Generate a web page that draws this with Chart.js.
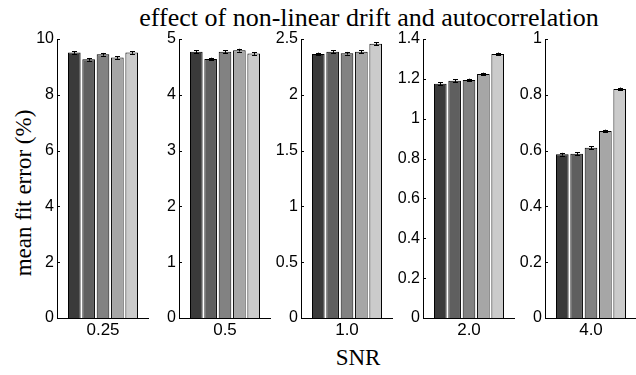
<!DOCTYPE html>
<html>
<head>
<meta charset="utf-8">
<script src="https://cdn.jsdelivr.net/npm/chart.js@4"></script>
<style>
  body { margin: 0; background: #fff; }
  #wrap { position: relative; width: 636px; height: 375px; overflow: hidden; }
  .panel { position: absolute; top: 20px; }
  .lbl { position: absolute; font-family: "Liberation Serif", "Times New Roman", serif; font-size: 23px; line-height: 23px; white-space: nowrap; color: #000; }
  #title { left: 369px; top: 5px; font-size: 26px; line-height: 26px; transform: translateX(-50%); }
  #xlab { left: 358px; top: 346px; transform: translateX(-50%); }
  #ylab { left: 23px; top: 193px; transform: translate(-50%, -50%) rotate(-90deg); }
</style>
</head>
<body>
<div id="wrap">
  <div class="lbl" id="title">effect of non-linear drift and autocorrelation</div>
  <div class="lbl" id="ylab">mean fit error (%)</div>
  <div class="lbl" id="xlab">SNR</div>
</div>
<script>
"use strict"

// SNR groups (one small panel each)
const snrLabels = ['0.25', '0.5', '1.0', '2.0', '4.0'];

// mean fit error (%) for the five conditions, per SNR
const meanSnr025 = [9.52, 9.27, 9.45, 9.34, 9.52];
const meanSnr05  = [4.77, 4.64, 4.77, 4.80, 4.74];
const meanSnr10  = [2.366, 2.386, 2.372, 2.386, 2.458];
const meanSnr20  = [1.176, 1.191, 1.194, 1.224, 1.325];
const meanSnr40  = [0.587, 0.589, 0.610, 0.670, 0.821];

// error bar half lengths
const errSnr025 = [0.05, 0.05, 0.05, 0.05, 0.05];
const errSnr05  = [0.025, 0.025, 0.025, 0.025, 0.025];
const errSnr10  = [0.012, 0.012, 0.012, 0.012, 0.012];
const errSnr20  = [0.007, 0.007, 0.007, 0.007, 0.007];
const errSnr40  = [0.005, 0.005, 0.005, 0.005, 0.005];

// y axis limits and tick steps per panel
const yMax  = [10, 5, 2.5, 1.4, 1];
const yStep = [2, 1, 0.5, 0.2, 0.2];

const means = [meanSnr025, meanSnr05, meanSnr10, meanSnr20, meanSnr40];
const errs  = [errSnr025, errSnr05, errSnr10, errSnr20, errSnr40];

const barColors = ['#3a3a3a', '#5f5f5f', '#828282', '#a6a6a6', '#cbcbcb'];

// error bars + inside tick marks (matlab style)
const extrasPlugin = {
    id: 'extras',
    afterDatasetsDraw: function(chart) {
        const ctx = chart.ctx;
        const ys = chart.scales.y;
        const errList = chart.options.plugins.extras.errs;
        ctx.save();
        ctx.strokeStyle = '#000';
        ctx.lineWidth = 1;
        chart.data.datasets.forEach(function(ds, i) {
            const bar = chart.getDatasetMeta(i).data[0];
            const v = ds.data[0];
            const e = errList[i];
            const x = Math.round(bar.x) + 0.5;
            const y1 = ys.getPixelForValue(v + e);
            const y2 = ys.getPixelForValue(v - e);
            ctx.beginPath();
            ctx.moveTo(x, y1); ctx.lineTo(x, y2);
            ctx.moveTo(x - 2.5, Math.round(y1) + 0.5); ctx.lineTo(x + 2.5, Math.round(y1) + 0.5);
            ctx.moveTo(x - 2.5, Math.round(y2) + 0.5); ctx.lineTo(x + 2.5, Math.round(y2) + 0.5);
            ctx.stroke();
        });
        // ticks pointing into the plot
        ctx.beginPath();
        ys.ticks.forEach(function(t) {
            const py = Math.round(ys.getPixelForValue(t.value)) + 0.5;
            ctx.moveTo(ys.right, py);
            ctx.lineTo(ys.right + 3, py);
        });
        ctx.stroke();
        ctx.restore();
    }
};

let wrap = document.getElementById('wrap');
let charts = [];

for (let p = 0; p < snrLabels.length; p++) {
    let box = document.createElement('div');
    box.className = 'panel';
    box.style.left = (17 + 122 * p) + 'px';
    let cv = document.createElement('canvas');
    cv.width = 132;
    cv.height = 322;
    box.appendChild(cv);
    wrap.appendChild(box);

    let datasets = [];
    for (let i = 0; i < 5; i++) {
        datasets.push({
            label: 'condition ' + (i + 1),
            data: [means[p][i]],
            backgroundColor: barColors[i],
            borderColor: '#000',
            borderWidth: 1,
            categoryPercentage: 0.78,
            barPercentage: 0.88
        });
    }

    charts.push(new Chart(cv.getContext('2d'), {
        type: 'bar',
        data: { labels: [snrLabels[p]], datasets: datasets },
        plugins: [extrasPlugin],
        options: {
            responsive: false,
            animation: false,
            layout: { padding: { top: 19, left: 0, right: 0, bottom: 0 } },
            plugins: {
                legend: { display: false },
                tooltip: { enabled: false },
                extras: { errs: errs[p] }
            },
            scales: {
                x: {
                    grid: { display: false, drawTicks: false },
                    border: { display: true, color: '#000', width: 1 },
                    ticks: {
                        color: '#000',
                        padding: 2,
                        font: { family: 'Liberation Sans, Arial, sans-serif', size: 17 }
                    },
                    afterFit: function(scale) { scale.height = 24; }
                },
                y: {
                    min: 0,
                    max: yMax[p],
                    grid: { display: false, drawTicks: false },
                    border: { display: true, color: '#000', width: 1 },
                    ticks: {
                        stepSize: yStep[p],
                        color: '#000',
                        padding: 3,
                        font: { family: 'Liberation Sans, Arial, sans-serif', size: 16 },
                        callback: function(value) {
                            return String(Number(value.toFixed(2)));
                        }
                    },
                    afterFit: function(scale) { scale.width = 40; }
                }
            }
        }
    }));
}
</script>
</body>
</html>
